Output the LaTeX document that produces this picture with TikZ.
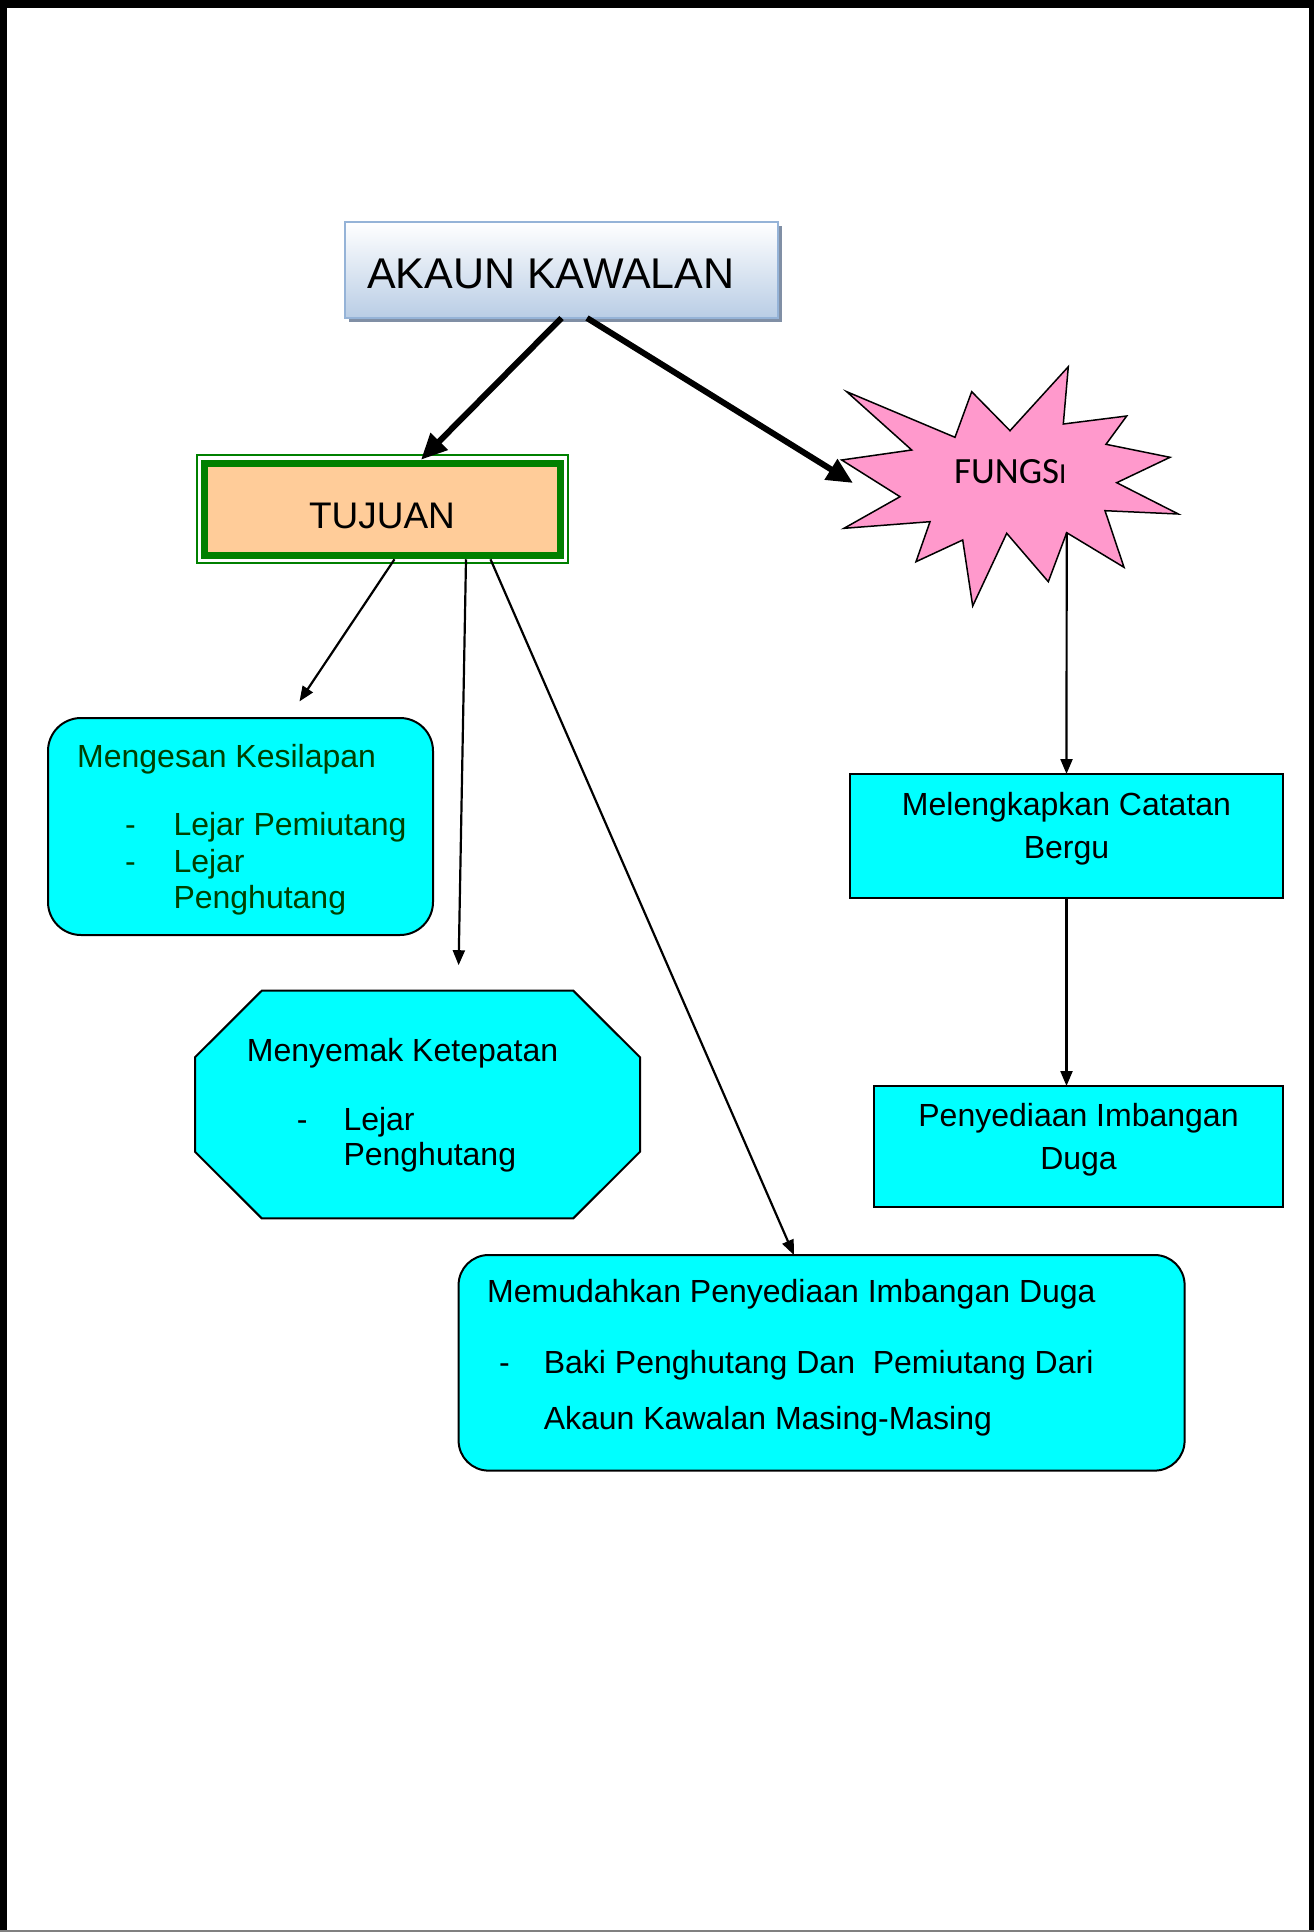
\documentclass[tikz,border=0pt]{standalone}
\usepackage{fontspec}
\setmainfont{Liberation Sans}
\newfontfamily\calib{Carlito}
\usetikzlibrary{arrows.meta}

\definecolor{cyanfill}{RGB}{0,255,255}
\definecolor{peach}{RGB}{255,204,153}
\definecolor{tgreen}{RGB}{0,128,0}
\definecolor{pinkstar}{RGB}{255,153,204}
\definecolor{akborder}{RGB}{149,179,215}
\definecolor{akbottom}{RGB}{185,205,229}
\definecolor{akshadow}{RGB}{128,143,165}
\definecolor{dgreen}{RGB}{0,64,0}

\begin{document}
\begin{tikzpicture}[x=1pt,y=-1pt,
  txt/.style={anchor=base west, inner sep=0pt, font=\fontsize{32}{38}\selectfont},
  ctxt/.style={anchor=base, inner sep=0pt, font=\fontsize{32}{38}\selectfont},
  cyanbox/.style={draw=black, line width=2pt, fill=cyanfill, inner sep=0pt, outer sep=0pt},
  thinarrow/.style={line width=2.2pt, -{Triangle[length=15pt,width=12pt]}},
  thickarrow/.style={line width=6pt, -{Triangle[length=26pt,width=23pt]}},
]
\useasboundingbox (0,0) rectangle (1314,1932);
\fill[white] (0,0) rectangle (1314,1932);

% AKAUN KAWALAN
\fill[akshadow] (349,226) rectangle (782,322);
\node[draw=akborder, line width=2pt, top color=white, bottom color=akbottom,
      minimum width=433pt, minimum height=96pt, inner sep=0pt, outer sep=0pt] (akaun) at (561.5,270) {};
\node[anchor=base west, inner sep=0pt, font=\fontsize{43}{48}\selectfont] (akauntxt) at (367,288) {AKAUN KAWALAN};

% TUJUAN
\draw[tgreen, line width=1.5pt] (197,455) rectangle (568,563);
\node[draw=tgreen, fill=peach, line width=7.5pt, minimum width=356pt, minimum height=92pt, inner sep=0pt] (tujuan) at (382.5,509.5) {};
\node[anchor=base, inner sep=0pt, font=\fontsize{37}{40}\selectfont] (tujuantxt) at (382,528) {TUJUAN};

% FUNGSI star
\draw[fill=pinkstar, line width=1.5pt, line join=miter]
  (846.7,391.7) -- (955,437.3) -- (971.7,391.7) -- (1010,430.7) -- (1068.3,366.7)
  -- (1063.3,424) -- (1126.7,416) -- (1106,444.3) -- (1170,457.3) -- (1116.7,482.7)
  -- (1178.3,514) -- (1105,510.7) -- (1124,567.3) -- (1066.7,532.7) -- (1048.3,581.7)
  -- (1006.7,533.3) -- (972.7,606) -- (962.7,540) -- (916,561.7) -- (930,521.7)
  -- (844,528.3) -- (900,496.7) -- (841.7,460) -- (911.7,450) -- cycle;
\node[anchor=base west, inner sep=0pt, font=\calib\fontsize{37}{40}\selectfont] (fungsi) at (954,483) {FUNGS{\fontsize{29}{30}\selectfont I}};
\coordinate (fin) at (853,483);
\coordinate (fout) at (1066.7,532.7);

% Melengkapkan
\node[cyanbox, minimum width=433pt, minimum height=124pt] (melengkap) at (1066.5,836) {};
\node[ctxt] (melengkaptxt1) at (1066.5,815) {Melengkapkan Catatan};
\node[ctxt] (melengkaptxt2) at (1066.5,858) {Bergu};

% Penyediaan
\node[cyanbox, minimum width=409pt, minimum height=121pt] (penyediaan) at (1078.5,1146.5) {};
\node[ctxt] (penyediaantxt1) at (1078.5,1126.7) {Penyediaan Imbangan};
\node[ctxt] (penyediaantxt2) at (1078.5,1169) {Duga};

% Mengesan
\node[cyanbox, rounded corners=33pt, minimum width=385pt, minimum height=217pt] (mengesan) at (240.5,826.5) {};
\node[txt, text=dgreen] (mengesantxt) at (77,767) {Mengesan Kesilapan};
\node[txt, text=dgreen] (mdash1) at (125,835) {-};
\node[txt, text=dgreen] (mitem1) at (173.3,835) {Lejar Pemiutang};
\node[txt, text=dgreen] (mdash2) at (125,872) {-};
\node[txt, text=dgreen] (mitem2) at (173.3,872) {Lejar};
\node[txt, text=dgreen] (mitem3) at (173.3,908) {Penghutang};
\coordinate (c1) at (299.5,701.4);

% Menyemak octagon
\draw[cyanbox] (261.7,990.7) -- (573.3,990.7) -- (640,1057.3) -- (640,1151.7)
  -- (573.3,1218.3) -- (261.7,1218.3) -- (195,1151.7) -- (195,1057.3) -- cycle;
\node[txt] (menyemaktxt) at (246.7,1061.7) {Menyemak Ketepatan};
\node[txt] (sdash) at (296.7,1130) {-};
\node[txt] (sitem1) at (343.3,1130) {Lejar};
\node[txt] (sitem2) at (343.3,1165) {Penghutang};
\coordinate (c2) at (458.6,965.2);

% Memudahkan
\node[cyanbox, rounded corners=30pt, minimum width=726pt, minimum height=215.6pt] (memudah) at (821.6,1362.8) {};
\node[txt] (memudahtxt) at (487,1302) {Memudahkan Penyediaan Imbangan Duga};
\node[txt] (pdash) at (499,1373) {-};
\node[txt] (pitem1) at (543.6,1373) {Baki Penghutang Dan\ \ Pemiutang Dari};
\node[txt] (pitem2) at (543.6,1429) {Akaun Kawalan Masing-Masing};

% connectors
\draw[thickarrow] (akaun.south) -- ([xshift=38.5pt]tujuan.north);
\draw[thickarrow] ([xshift=25.5pt]akaun.south) -- (fin);
\draw[thinarrow] ([xshift=12pt]tujuan.south) -- (c1);
\draw[thinarrow] ([xshift=83.5pt]tujuan.south) -- (c2);
\draw[thinarrow] ([xshift=108pt]tujuan.south) -- ([xshift=-27.7pt]memudah.north);
\draw[thinarrow] (fout) -- (melengkap.north);
\draw[thinarrow] (melengkap.south) -- (melengkap.south |- penyediaan.north);

% page border
\fill[black] (0,0) rectangle (1314,8);
\fill[black] (0,0) rectangle (7,1932);
\fill[black] (1309,0) rectangle (1314,1932);
\draw[gray, line width=1.5pt] (0,1931) -- (1314,1931);
\end{tikzpicture}
\end{document}
